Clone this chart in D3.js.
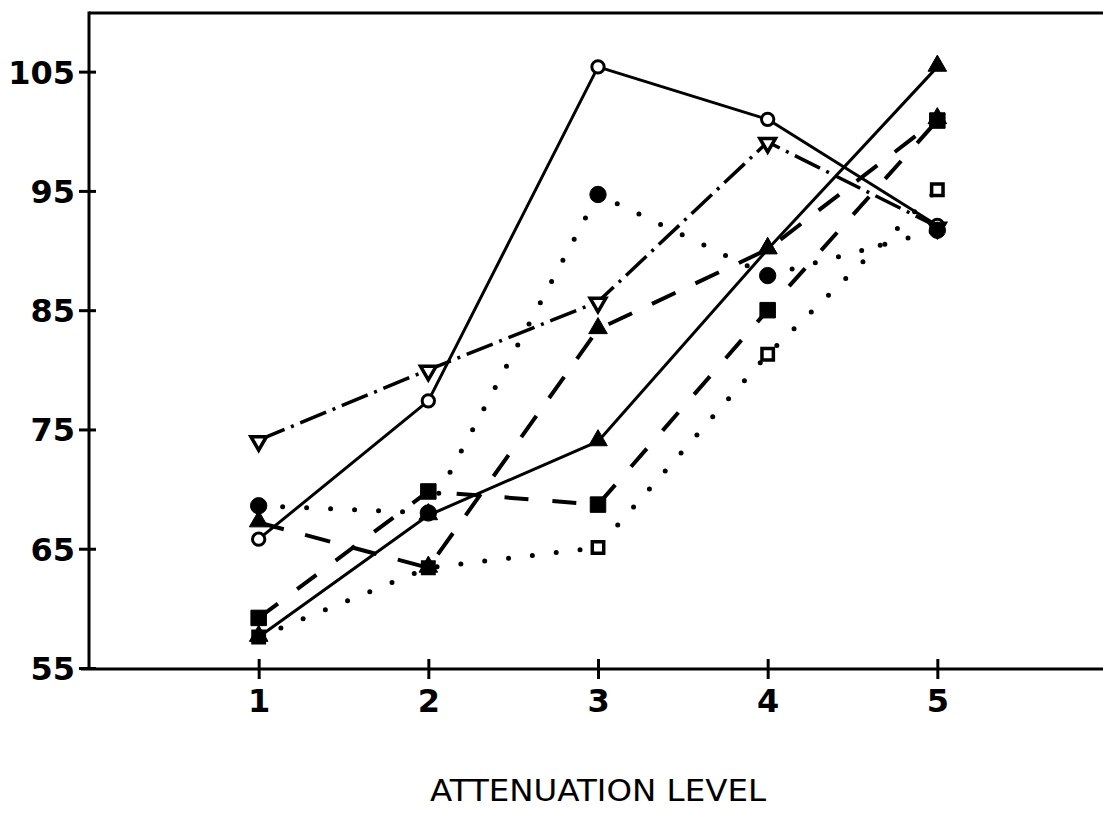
<!DOCTYPE html>
<html>
<head>
<meta charset="utf-8">
<script src="https://cdn.jsdelivr.net/npm/d3@7"></script>
<style>
  html, body { margin: 0; padding: 0; background: #fff; }
  svg { display: block; }
  text { fill: #000; }
</style>
</head>
<body>
<svg id="chart" width="1103" height="836"></svg>
<script>
// Attenuation levels on the x axis
const levels = [1, 2, 3, 4, 5];
const xTicks = [1, 2, 3, 4, 5];
const yTicks = [55, 65, 75, 85, 95, 105];
const xTitle = "ATTENUATION LEVEL";

// Response values per condition, one value per attenuation level
const openCircleVals    = [65.8, 77.4, 105.4, 101.0, 92.1];
const filledCircleVals  = [68.6, 68.0, 94.7, 87.9, 91.7];
const openInvTriVals    = [74.1, 80.0, 85.7, 99.1, 92.0];
const filledTriSolidVals  = [57.6, 67.8, 74.0, 90.1, 105.4];
const filledTriDashedVals = [67.2, 63.4, 83.4, 90.1, 101.0];
const openSquareVals    = [57.6, 63.4, 65.1, 81.3, 95.1];
const filledSquareVals  = [59.2, 69.8, 68.7, 85.0, 100.9];

const svg = d3.select("#chart");

const x = d3.scaleLinear().domain([0, 6]).range([89, 1107]);
const y = d3.scaleLinear().domain([55, 110]).range([668, 12]);

const ink = "#000";

// Frame: top rule
svg.append("line")
  .attr("x1", x(0)).attr("x2", 1103)
  .attr("y1", y(110) + 1).attr("y2", y(110) + 1)
  .attr("stroke", ink).attr("stroke-width", 3);

// Y axis
const yAxis = d3.axisLeft(y)
  .tickValues(yTicks)
  .tickFormat(d3.format("d"))
  .tickSizeInner(10)
  .tickSizeOuter(0)
  .tickPadding(6);

const gy = svg.append("g")
  .attr("transform", `translate(${x(0)},0)`)
  .call(yAxis);
gy.select(".domain").remove();
gy.append("line")
  .attr("x1", 0).attr("x2", 0)
  .attr("y1", y(110) - 0.5).attr("y2", y(55) + 2)
  .attr("stroke", ink).attr("stroke-width", 3);
gy.selectAll(".tick line")
  .attr("x1", -10).attr("x2", 7)
  .attr("stroke", ink).attr("stroke-width", 3);
gy.selectAll(".tick text")
  .attr("x", -14)
  .attr("dy", "0.36em")
  .style("font-family", "'DejaVu Sans', sans-serif")
  .style("font-weight", "bold")
  .style("font-size", "32px");

// X axis
const xAxis = d3.axisBottom(x)
  .tickValues(xTicks)
  .tickFormat(d3.format("d"))
  .tickSizeInner(10)
  .tickSizeOuter(0)
  .tickPadding(14);

const gx = svg.append("g")
  .attr("transform", `translate(0,${y(55)})`)
  .call(xAxis);
gx.select(".domain").remove();
gx.append("line")
  .attr("x1", x(0) - 8).attr("x2", 1103)
  .attr("y1", 1).attr("y2", 1)
  .attr("stroke", ink).attr("stroke-width", 3);
gx.selectAll(".tick line")
  .attr("y1", -9).attr("y2", 11)
  .attr("stroke", ink).attr("stroke-width", 3);
gx.selectAll(".tick text")
  .attr("y", 21)
  .attr("dy", "0.71em")
  .style("font-family", "'DejaVu Sans', sans-serif")
  .style("font-weight", "bold")
  .style("font-size", "32px");

// Axis title
svg.append("text")
  .attr("x", 598)
  .attr("y", 801)
  .attr("text-anchor", "middle")
  .style("font-family", "'DejaVu Sans', sans-serif")
  .style("font-size", "30px")
  .attr("textLength", 336)
  .attr("lengthAdjust", "spacingAndGlyphs")
  .text(xTitle);

// Series definitions: values plus line style and marker
const series = [
  { vals: openSquareVals,      dash: "0,24",        width: 5,   cap: "round", marker: "square",   fill: false },
  { vals: filledCircleVals,    dash: "0,24",        width: 5,   cap: "round", marker: "circle",   fill: true  },
  { vals: filledSquareVals,    dash: "24,24",       width: 4,   cap: "butt",  marker: "square",   fill: true  },
  { vals: filledTriDashedVals, dash: "26,22",       width: 4,   cap: "butt",  marker: "triangle", fill: true  },
  { vals: openInvTriVals,      dash: "28,7,3,7",    width: 3.5, cap: "butt",  marker: "invtri",   fill: false },
  { vals: filledTriSolidVals,  dash: null,          width: 3,   cap: "butt",  marker: "triangle", fill: true  },
  { vals: openCircleVals,      dash: null,          width: 3,   cap: "butt",  marker: "circle",   fill: false }
];

const line = d3.line()
  .x((d, i) => x(levels[i]))
  .y(d => y(d));

const lines = svg.append("g").attr("class", "lines");
series.forEach(s => {
  lines.append("path")
    .datum(s.vals)
    .attr("d", line)
    .attr("fill", "none")
    .attr("stroke", ink)
    .attr("stroke-width", s.width)
    .attr("stroke-linecap", s.cap)
    .attr("stroke-linejoin", "round")
    .attr("stroke-dasharray", s.dash);
});

// Marker shapes
const symbolFor = {
  circle:   (fill) => d3.symbol().type(d3.symbolCircle).size(fill ? 210 : 120)(),
  square:   (fill) => d3.symbol().type(d3.symbolSquare).size(fill ? 240 : 130)(),
  triangle: (fill) => d3.symbol().type(d3.symbolTriangle).size(150)(),
  invtri:   (fill) => d3.symbol().type(d3.symbolTriangle).size(105)()
};

// Open markers first, then filled circles, then the other filled markers
const markerRank = s => (!s.fill ? 0 : (s.marker === "circle" ? 1 : 2));
const ordered = series.slice().sort((a, b) => markerRank(a) - markerRank(b));
const markers = svg.append("g").attr("class", "markers");
ordered.forEach(s => {
  markers.selectAll(null)
    .data(s.vals)
    .join("path")
    .attr("d", symbolFor[s.marker](s.fill))
    .attr("transform", (d, i) => {
      const base = `translate(${x(levels[i])},${y(d)})`;
      if (s.marker === "invtri") return base + " rotate(180) translate(0,-1)";
      if (s.marker === "triangle") return base + " translate(0,-1)";
      return base;
    })
    .attr("fill", s.fill ? ink : "#fff")
    .attr("stroke", ink)
    .attr("stroke-width", s.fill ? 1 : (s.marker === "circle" ? 3 : 3.5));
});
</script>
</body>
</html>
